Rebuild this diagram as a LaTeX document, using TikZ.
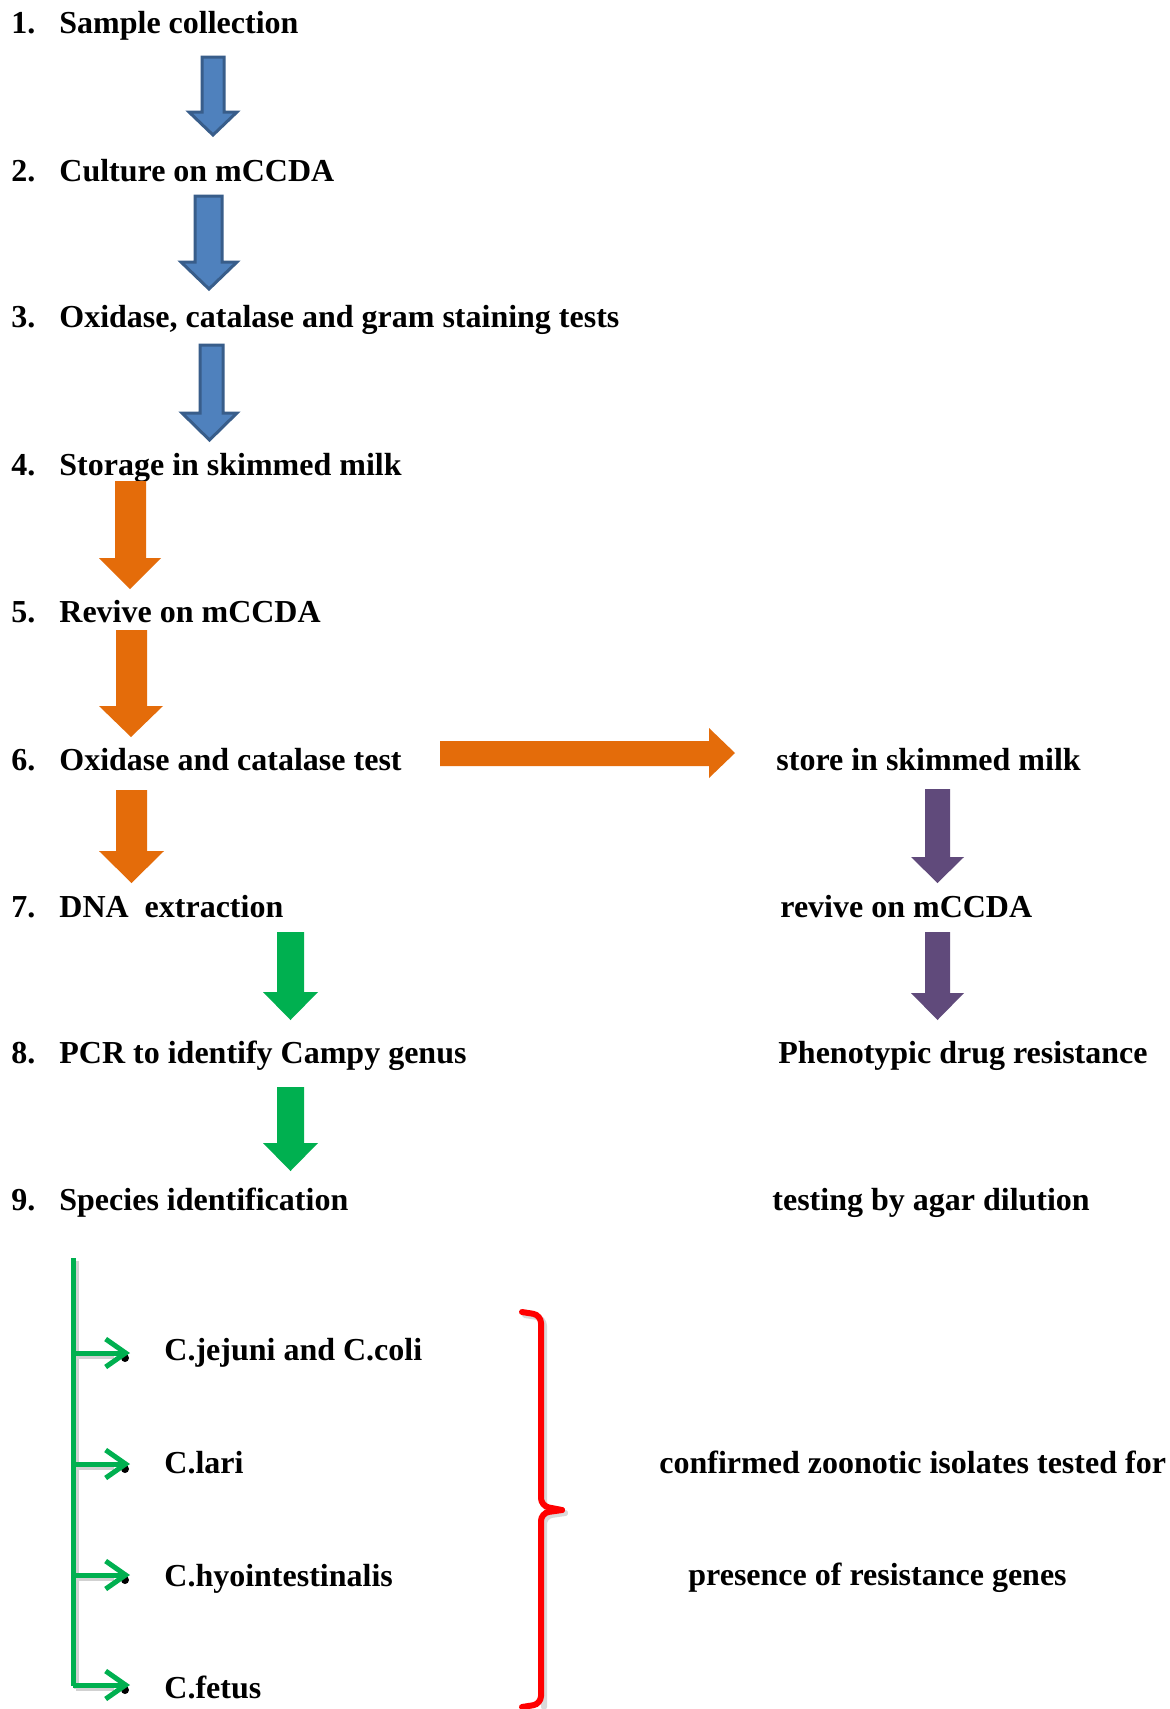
\documentclass[tikz,border=0pt]{standalone}
\usepackage{fontspec}
\setmainfont{Liberation Serif}
\usetikzlibrary{arrows.meta}
\definecolor{bluefill}{HTML}{4F81BD}
\definecolor{blueline}{HTML}{385D8A}
\definecolor{orangec}{HTML}{E46C0A}
\definecolor{purplec}{HTML}{604A7B}
\definecolor{greenc}{HTML}{00B050}
\definecolor{redc}{HTML}{FF0000}
% args: style, shaftL, shaftR, headL, headR, top, base, tip
\newcommand\myDownArrow[8]{%
  \path[#1] (#2,#6) -- (#3,#6) -- (#3,#7) -- (#5,#7) -- ({(#4+#5)/2},#8) -- (#4,#7) -- (#2,#7) -- cycle;}
\begin{document}
\begin{tikzpicture}[x=0.5pt,y=-0.5pt,
  txt/.style={anchor=base west,inner sep=0pt,font=\fontsize{16}{19}\bfseries\selectfont},
  bluearr/.style={fill=bluefill,draw=blueline,line width=1.5pt,line join=miter},
  orangearr/.style={fill=orangec},
  purplearr/.style={fill=purplec},
  greenarr/.style={fill=greenc},
  branch/.style={draw=greenc,line width=2.5pt,-{Straight Barb[length=10pt,width=14pt]}},
  gshadow/.style={draw=black!18,line width=2.5pt},
  redbr/.style={draw=redc,line width=3pt,rounded corners=4pt,line cap=round},
  rshadow/.style={draw=black!15,line width=3pt,rounded corners=4pt,line cap=round}]
\useasboundingbox[fill=white] (0,0) rectangle (1170,1709);

% left column numbers
\node[txt] (n1) at (11,33) {1.};
\node[txt] (n2) at (11,181) {2.};
\node[txt] (n3) at (11,327) {3.};
\node[txt] (n4) at (11,475) {4.};
\node[txt] (n5) at (11,622) {5.};
\node[txt] (n6) at (11,770) {6.};
\node[txt] (n7) at (11,917) {7.};
\node[txt] (n8) at (11,1063) {8.};
\node[txt] (n9) at (11,1210) {9.};
% left column texts
\node[txt] (s1) at (59,33) {Sample collection};
\node[txt] (s2) at (59,181) {Culture on mCCDA};
\node[txt] (s3) at (59,327) {Oxidase, catalase and gram staining tests};
\node[txt] (s4) at (59,475) {Storage in skimmed milk};
\node[txt] (s5) at (59,622) {Revive on mCCDA};
\node[txt] (s6) at (59,770) {Oxidase and catalase test};
\node[txt] (s7) at (59,917) {DNA\ \ extraction};
\node[txt] (s8) at (59,1063) {PCR to identify Campy genus};
\node[txt] (s9) at (59,1210) {Species identification};
% right column
\node[txt] (r1) at (776,770) {store in skimmed milk};
\node[txt] (r2) at (780,917) {revive on mCCDA};
\node[txt] (r3) at (778,1063) {Phenotypic drug resistance};
\node[txt] (r4) at (772,1210) {testing by agar dilution};

% blue arrows
\myDownArrow{bluearr}{202}{224}{189}{237}{57}{112}{135}
\myDownArrow{bluearr}{195}{222}{181}{237}{196}{262}{289}
\myDownArrow{bluearr}{200}{223}{182}{237}{345}{413}{440}
% orange arrows
\myDownArrow{orangearr}{115}{146}{99}{161}{481}{558}{589}
\myDownArrow{orangearr}{116}{147}{99}{163}{630}{706}{737}
\myDownArrow{orangearr}{116}{147}{99}{164}{790}{851}{883}
\path[orangearr] (440,741) -- (709,741) -- (709,728) -- (735,753) -- (709,778) -- (709,766) -- (440,766) -- cycle;
% purple arrows
\myDownArrow{purplearr}{925}{950}{911}{964}{789}{857}{883}
\myDownArrow{purplearr}{925}{950}{911}{964}{932}{993}{1020}
% green arrows
\myDownArrow{greenarr}{277}{304}{263}{318}{932}{992}{1020}
\myDownArrow{greenarr}{277}{304}{263}{318}{1087}{1143}{1171}

% species branches
\coordinate (gtop) at (73,1258);
\coordinate (gbot) at (73,1686);
\coordinate (b1) at (73,1353); \coordinate (e1) at (130,1353);
\coordinate (b2) at (73,1464); \coordinate (e2) at (130,1464);
\coordinate (b3) at (73,1575); \coordinate (e3) at (130,1575);
\coordinate (b4) at (73,1685); \coordinate (e4) at (130,1685);
\draw[gshadow] ([shift={(3,3)}]gtop) -- ([shift={(3,3)}]gbot);
\foreach \i in {1,...,4}{
  \draw[gshadow] ([shift={(3,3)}]b\i) -- ([shift={(-16,3)}]e\i);
}
\foreach \i in {1,...,4}{
  \fill ([shift={(-5,5)}]e\i) circle (4);
}
\draw[draw=greenc,line width=2.5pt] (gtop) -- (gbot);
\foreach \i in {1,...,4}{
  \draw[branch] (b\i) -- (e\i);
}
\node[txt] (c1) at (164,1360) {C.jejuni and C.coli};
\node[txt] (c2) at (164,1473) {C.lari};
\node[txt] (c3) at (164,1586) {C.hyointestinalis};
\node[txt] (c4) at (164,1698) {C.fetus};

% red bracket
\draw[rshadow] (525,1315) -- (544,1318) -- (544,1509) -- (565,1513);
\draw[rshadow] (565,1513) -- (544,1516) -- (544,1707);
\draw[redbr] (522,1312) -- (541,1315) -- (541,1506) -- (562,1510);
\draw[redbr] (562,1510) -- (541,1513) -- (541,1704) -- (522,1707);

\node[txt] (z1) at (659,1473) {confirmed zoonotic isolates tested for};
\node[txt] (z2) at (688,1585) {presence of resistance genes};
\end{tikzpicture}
\end{document}
